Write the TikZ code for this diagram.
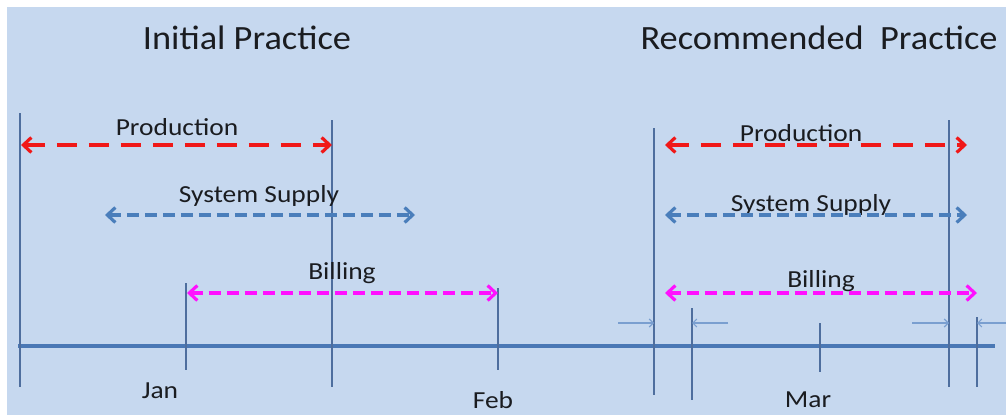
\documentclass[tikz,border=0pt]{standalone}
\usepackage{fontspec}
\setmainfont{Carlito}
\newfontfamily\titlefont[FakeStretch=1.07]{Carlito}
\newfontfamily\lblfont[FakeStretch=1.12]{Carlito}
\usetikzlibrary{arrows.meta}
\definecolor{bg}{HTML}{C6D8EF}
\definecolor{axisblue}{HTML}{4A78B5}
\definecolor{tickblue}{HTML}{4E6E9E}
\definecolor{supplyblue}{HTML}{4A7EBB}
\definecolor{prodred}{HTML}{F01818}
\definecolor{billmag}{HTML}{FF10FF}
\definecolor{gapblue}{HTML}{7A9FD0}
\definecolor{ink}{HTML}{1A1C20}
\tikzset{
  heading/.style={font=\titlefont\fontsize{34}{36}\selectfont, text=ink, inner sep=0pt},
  lbl/.style={font=\lblfont\fontsize{24.5}{26}\selectfont, text=ink, inner sep=0pt},
  vline/.style={draw=tickblue, line width=1.4pt},
  axisline/.style={draw=axisblue, line width=4.5pt},
  barb/.tip={Straight Barb[length=8pt,width=15pt]},
  span/.style={line width=3.2pt, {barb}-{barb}},
  prod/.style={span, draw=prodred, dash pattern=on 20pt off 12pt},
  supply/.style={span, draw=supplyblue, dash pattern=on 12pt off 6pt},
  bill/.style={span, draw=billmag, dash pattern=on 12pt off 6pt},
  gap/.style={draw=gapblue, line width=1.1pt, -{Straight Barb[length=4pt,width=8pt]}}
}
\begin{document}
\begin{tikzpicture}[x=1pt,y=-1pt]
\useasboundingbox (0,0) rectangle (1006,415);
\fill[bg] (7,7) rectangle (1006,415);

% headings
\node[heading] (hInit) at (247,38) {Initial Practice};
\node[heading] (hRec) at (819,38) {Recommended\ \ Practice};

% time axis
\coordinate (axL) at (18,346);
\coordinate (axR) at (995,346);
\draw[axisline] (axL) -- (axR);

% vertical markers, initial practice
\coordinate (v1t) at (20,113);  \coordinate (v1b) at (20,387);
\coordinate (v2t) at (186,283); \coordinate (v2b) at (186,370);
\coordinate (v3t) at (332,120); \coordinate (v3b) at (332,387);
\coordinate (v4t) at (498,288); \coordinate (v4b) at (498,370);
% vertical markers, recommended practice
\coordinate (w1t) at (654,128); \coordinate (w1b) at (654,395);
\coordinate (w2t) at (692,308); \coordinate (w2b) at (692,400);
\coordinate (w3t) at (820,323); \coordinate (w3b) at (820,372);
\coordinate (w4t) at (949,120); \coordinate (w4b) at (949,387);
\coordinate (w5t) at (977,317); \coordinate (w5b) at (977,387);
\foreach \a/\b in {v1t/v1b,v2t/v2b,v3t/v3b,v4t/v4b,w1t/w1b,w2t/w2b,w3t/w3b,w4t/w4b,w5t/w5b}
  \draw[vline] (\a) -- (\b);

% spans, initial practice
\node[lbl] (lp1) at (177,127) {Production};
\coordinate (p1a) at (21,145);  \coordinate (p1b) at (332,145);
\draw[prod] (p1a) -- (p1b);
\node[lbl] (ls1) at (259,196) {System Supply};
\coordinate (s1a) at (105,215); \coordinate (s1b) at (415,215);
\draw[supply] (s1a) -- (s1b);
\node[lbl] (lb1) at (342,273) {Billing};
\coordinate (b1a) at (187,293); \coordinate (b1b) at (498,293);
\draw[bill] (b1a) -- (b1b);

% spans, recommended practice
\node[lbl] (lp2) at (801,133) {Production};
\coordinate (p2a) at (665,145); \coordinate (p2b) at (967,145);
\draw[prod] (p2a) -- (p2b);
\node[lbl] (ls2) at (811,205) {System Supply};
\coordinate (s2a) at (665,215); \coordinate (s2b) at (967,215);
\draw[supply] (s2a) -- (s2b);
\node[lbl] (lb2) at (821,281) {Billing};
\coordinate (b2a) at (665,293); \coordinate (b2b) at (977,293);
\draw[bill] (b2a) -- (b2b);

% gap markers
\coordinate (g1) at (618,323); \coordinate (g1e) at (654,323);
\coordinate (g2) at (728,323); \coordinate (g2e) at (692,323);
\coordinate (g3) at (912,323); \coordinate (g3e) at (949,323);
\coordinate (g4) at (1006,323); \coordinate (g4e) at (977,323);
\draw[gap] (g1) -- (g1e);
\draw[gap] (g2) -- (g2e);
\draw[gap] (g3) -- (g3e);
\draw[gap] (g4) -- (g4e);

% months
\node[lbl] (jan) at (160,391) {Jan};
\node[lbl] (feb) at (493,400) {Feb};
\node[lbl] (mar) at (808,400) {Mar};
\end{tikzpicture}
\end{document}
